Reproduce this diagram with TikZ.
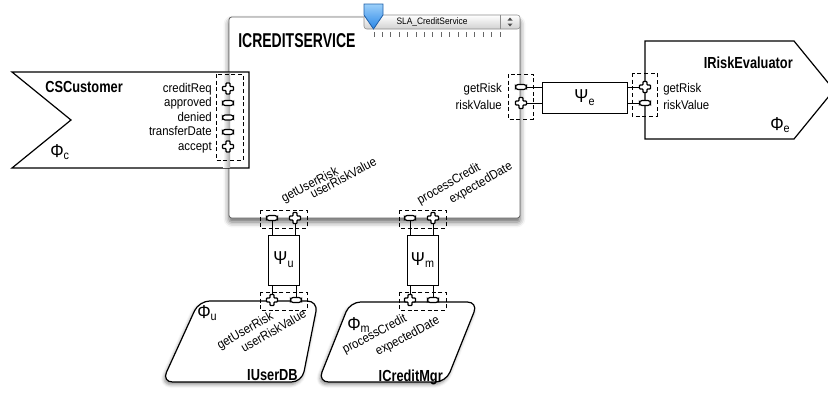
\documentclass[tikz,border=0pt]{standalone}
\usepackage{fontspec}
\setmainfont{Liberation Sans}[FakeStretch=0.9]
\newfontfamily\titlefont{Liberation Sans}[FakeStretch=0.8]
\newfontfamily\bigtitlefont{Liberation Sans}[FakeStretch=0.7]
\usetikzlibrary{shadows.blur}

\definecolor{markertop}{HTML}{9CD0FA}
\definecolor{markerbot}{HTML}{2A86E6}
\definecolor{markerline}{HTML}{1F5FA8}

\newcommand\grk[2]{{\fontsize{14}{14}\selectfont #1}\raisebox{-0.4ex}{\fontsize{9}{9}\selectfont #2}}

\tikzset{
  lbl/.style={font=\fontsize{9.5}{11}\selectfont, inner sep=0pt},
  ttl/.style={font=\titlefont\bfseries\fontsize{12}{14}\selectfont, inner sep=0pt},
  grkbox/.style={draw, fill=white, line width=0.7pt, inner sep=0pt},
  portbox/.style={draw, dash pattern=on 3pt off 2pt, line width=0.6pt},
  wire/.style={line width=0.6pt},
  shapeline/.style={draw, fill=white, line width=0.9pt},
  plusport/.pic={
    \draw[fill=white, line width=0.9pt, rounded corners=0.5pt]
      (-2,-5.5) -- (2,-5.5) -- (2,-2) -- (5.5,-2) -- (5.5,2) -- (2,2) -- (2,5.5)
      -- (-2,5.5) -- (-2,2) -- (-5.5,2) -- (-5.5,-2) -- (-2,-2) -- cycle;
  },
  minusport/.pic={
    \draw[fill=white, line width=0.9pt, rounded corners=2pt] (-5.5,-2.5) rectangle (5.5,2.5);
  }
}

\begin{document}
\begin{tikzpicture}[x=0.75pt, y=-0.75pt]
\useasboundingbox (0,0) rectangle (828,393);

% service component
\draw[draw=black!60, fill=white, line width=0.6pt, rounded corners=2pt,
      blur shadow={shadow xshift=0pt, shadow yshift=-3pt, shadow blur radius=4pt, shadow opacity=60}]
  (229,17) rectangle (520,218);
\node[anchor=base west, font=\bigtitlefont\bfseries\fontsize{15}{17}\selectfont, inner sep=0pt] (svcname) at (238,47) {ICREDITSERVICE};

% SLA selector
\draw[draw=black!45, rounded corners=2pt, top color=white, bottom color=black!18] (364,15) rectangle (520,29);
\draw[black!45] (500,15) -- (500,29);
\node[font=\fontsize{7}{8}\selectfont, inner sep=0pt] (sla) at (432,22) {SLA\_CreditService};
\fill[black!70] (507.5,20.5) -- (512.5,20.5) -- (510,17.5) -- cycle;
\fill[black!70] (507.5,23.5) -- (512.5,23.5) -- (510,26.5) -- cycle;
\foreach \i in {0,...,15}
  \draw[black!60, line width=0.5pt] (374+\i*8.4,32) -- (374+\i*8.4,37);
\shade[draw=markerline, top color=markertop, bottom color=markerbot, line width=0.6pt]
  (364,4) -- (383,4) -- (383,15) -- (373.5,29) -- (364,15) -- cycle;

% customer
\draw[shapeline] (12,72) -- (249,72) -- (249,168) -- (12,168) -- (71,120) -- cycle;
\shade[left color=white, right color=black!35] (223,73) rectangle (230,167);
\node[ttl, anchor=base west] (custname) at (45,92) {CSCustomer};
\node[anchor=base west, inner sep=0pt] (phic) at (50,157) {\grk{Φ}{c}};
\foreach \y/\t [count=\k] in {92/creditReq, 106.5/approved, 121/denied, 135.5/transferDate, 150/accept}
  \node[lbl, anchor=base east] (cust\k) at (212,\y) {\t};
\draw[portbox] (216,74) rectangle (243,160);
\foreach \y/\p [count=\k] in {88.5/plusport, 103/minusport, 117.5/minusport, 132/minusport, 146.5/plusport}
  \pic at (228,\y) {\p};

% evaluator
\draw[shapeline] (645,41) -- (794,41) -- (834,90) -- (794,139) -- (645,139) -- cycle;
\node[ttl, anchor=base east] (evalname) at (793,68) {IRiskEvaluator};
\node[anchor=base west, inner sep=0pt] (phie) at (770,130) {\grk{Φ}{e}};
\node[lbl, anchor=base west] (evallbl1) at (663,92.5) {getRisk};
\node[lbl, anchor=base west] (evallbl2) at (663,109) {riskValue};
\node[lbl, anchor=base east] (svclbl1) at (502,92.5) {getRisk};
\node[lbl, anchor=base east] (svclbl2) at (502,109) {riskValue};

\node[grkbox, minimum width=63.75pt, minimum height=23.25pt] (psie) at (584.5,97.5) {\grk{Ψ}{e}};
\coordinate (svcR1) at (521,87);
\coordinate (svcR2) at (521,103);
\coordinate (eval1) at (645,87);
\coordinate (eval2) at (645,103);
\draw[wire] (svcR1) -- (svcR1 -| psie.west);
\draw[wire] (svcR2) -- (svcR2 -| psie.west);
\draw[wire] (eval1 -| psie.east) -- (eval1);
\draw[wire] (eval2 -| psie.east) -- (eval2);
\draw[portbox] (508,74) rectangle (533,119);
\draw[portbox] (632,73) rectangle (657,116);
\pic at (svcR1) {minusport};
\pic at (svcR2) {plusport};
\pic at (eval1) {plusport};
\pic at (eval2) {minusport};

% user db and credit manager
\draw[shapeline, rounded corners=8pt,
      blur shadow={shadow xshift=-1pt, shadow yshift=-2pt, shadow blur radius=2.5pt, shadow opacity=45}]
  (260,301) -- (318,301) -- (302,382) -- (162,382) -- (199,301) -- cycle;
\draw[shapeline, rounded corners=8pt,
      blur shadow={shadow xshift=-1pt, shadow yshift=-2pt, shadow blur radius=2.5pt, shadow opacity=45}]
  (414,302) -- (478,302) -- (446,382) -- (318,382) -- (350,302) -- cycle;
\node[ttl, anchor=base east] (username) at (298,380) {IUserDB};
\node[ttl, anchor=base east] (mgrname) at (443,381) {ICreditMgr};
\node[anchor=base west, inner sep=0pt] (phiu) at (197,318) {\grk{Φ}{u}};
\node[anchor=base west, inner sep=0pt] (phim) at (347,330) {\grk{Φ}{m}};

\node[lbl, anchor=base west, rotate=28] (svclbl3) at (284,203) {getUserRisk};
\node[lbl, anchor=base west, rotate=28] (svclbl4) at (313,199) {userRiskValue};
\node[lbl, anchor=base west, rotate=30] (svclbl5) at (420,205) {processCredit};
\node[lbl, anchor=base west, rotate=30] (svclbl6) at (452,204) {expectedDate};
\node[lbl, anchor=base west, rotate=30] (userlbl1) at (220,350) {getUserRisk};
\node[lbl, anchor=base west, rotate=30] (userlbl2) at (244,353) {userRiskValue};
\node[lbl, anchor=base west, rotate=28] (mgrlbl1) at (345,354) {processCredit};
\node[lbl, anchor=base west, rotate=28] (mgrlbl2) at (378,356) {expectedDate};

\node[grkbox, minimum width=23.25pt, minimum height=37.5pt] (psiu) at (283.5,260) {\grk{Ψ}{u}};
\node[grkbox, minimum width=23.25pt, minimum height=37.5pt] (psim) at (422.5,260) {\grk{Ψ}{m}};
\coordinate (svcU1) at (272,218);
\coordinate (svcU2) at (295,218);
\coordinate (user1) at (272,300);
\coordinate (user2) at (296,300);
\coordinate (svcM1) at (410,218);
\coordinate (svcM2) at (433,218);
\coordinate (mgr1) at (410,300);
\coordinate (mgr2) at (433,300);
\draw[wire] (svcU1) -- (svcU1 |- psiu.north);
\draw[wire] (svcU2) -- (svcU2 |- psiu.north);
\draw[wire] (psiu.south -| user1) -- (user1);
\draw[wire] (psiu.south -| user2) -- (user2);
\draw[wire] (svcM1) -- (svcM1 |- psim.north);
\draw[wire] (svcM2) -- (svcM2 |- psim.north);
\draw[wire] (psim.south -| mgr1) -- (mgr1);
\draw[wire] (psim.south -| mgr2) -- (mgr2);
\draw[portbox] (260,210) rectangle (307,228);
\draw[portbox] (260,292) rectangle (307,310);
\draw[portbox] (399,210) rectangle (446,228);
\draw[portbox] (399,292) rectangle (446,310);
\pic at (svcU1) {minusport};
\pic at (svcU2) {plusport};
\pic at (user1) {plusport};
\pic at (user2) {minusport};
\pic at (svcM1) {minusport};
\pic at (svcM2) {plusport};
\pic at (mgr1) {plusport};
\pic at (mgr2) {minusport};
\end{tikzpicture}
\end{document}
